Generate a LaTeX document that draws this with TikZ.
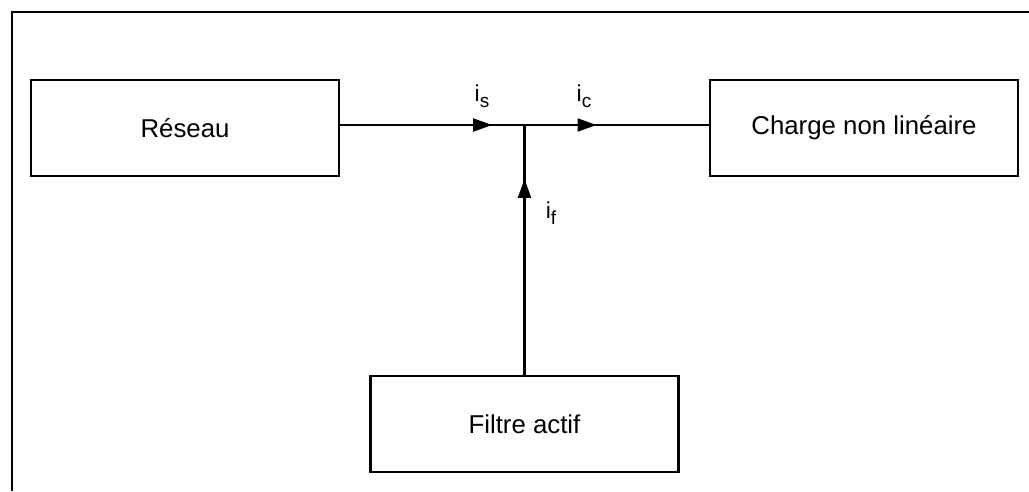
\documentclass[tikz,border=0pt]{standalone}
\usepackage{fontspec}
\setmainfont{Liberation Sans}
\usetikzlibrary{arrows.meta,decorations.markings}
\newcommand{\courant}[1]{{\fontsize{23}{23}\selectfont i\raisebox{-6pt}{\fontsize{19}{19}\selectfont #1}}}
\begin{document}
\begin{tikzpicture}[
  x=1pt, y=-1pt,
  line width=2.2pt,
  bloc/.style={rectangle, draw, minimum width=308pt, minimum height=96pt,
    font=\fontsize{25.8}{30}\selectfont},
  intensite/.style={inner sep=0pt},
  fleche/.style={postaction={decorate}, decoration={markings,
    mark=at position #1 with {\arrow{Triangle[length=19pt, width=13pt]}}}}
]
  \useasboundingbox (0,0) rectangle (1029,491);
  \draw (12,491) -- (12,12) -- (1029,12);
  \node[bloc] (reseau) at (185,128) {Réseau};
  \node[bloc] (charge) at (864,128) {Charge non linéaire};
  \node[bloc] (filtre) at (524.5,424) {Filtre actif};
  \coordinate (noeud) at (524.5,125);
  \draw[fleche=152pt] (noeud -| reseau.east) -- (noeud);
  \draw[fleche=72pt] (noeud) -- (noeud -| charge.west);
  \draw[fleche=196pt] (filtre.north) -- (noeud);
  \node[intensite] (is) at (482,96) {\courant{s}};
  \node[intensite] (ic) at (584,96) {\courant{c}};
  \node[intensite] (if) at (551,213) {\courant{f}};
\end{tikzpicture}
\end{document}
